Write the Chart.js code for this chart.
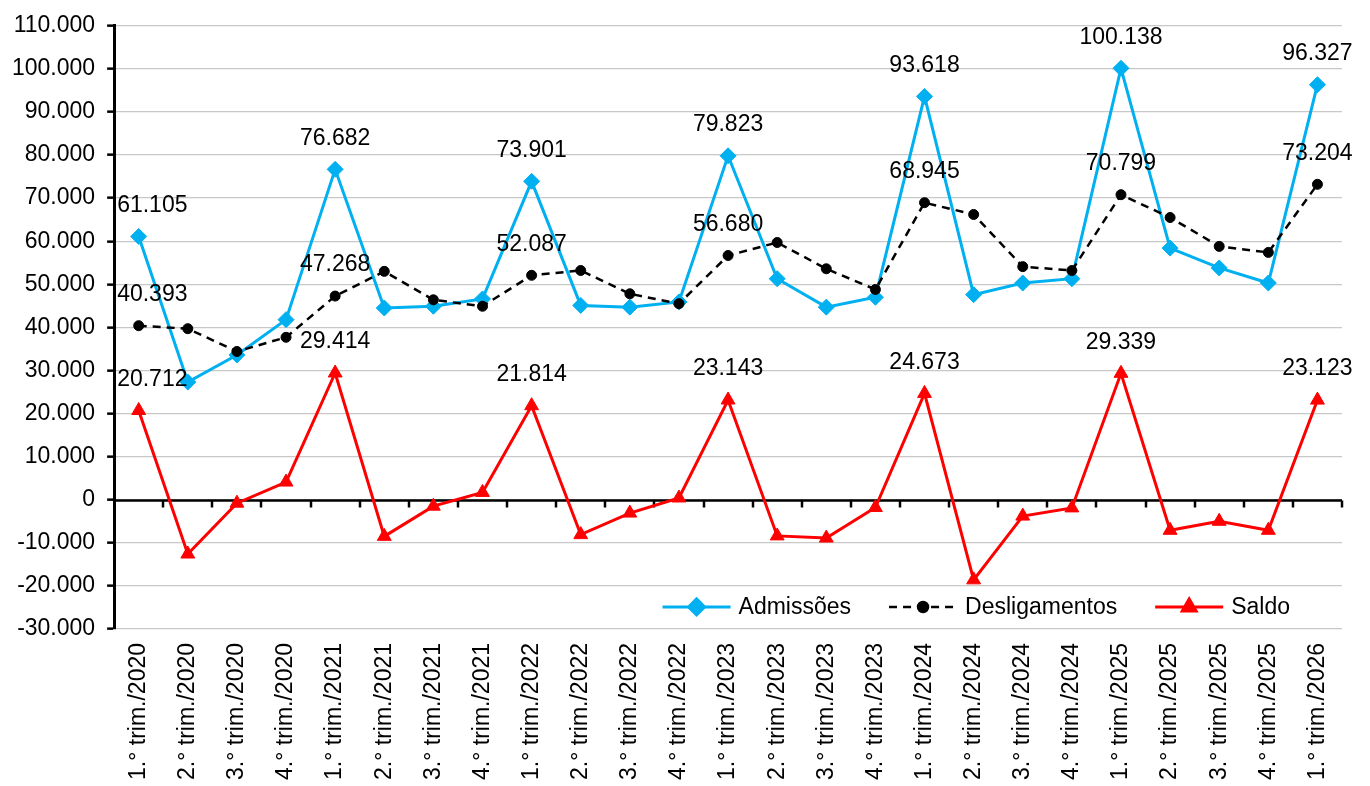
<!DOCTYPE html>
<html>
<head>
<meta charset="utf-8">
<script src="https://cdn.jsdelivr.net/npm/chart.js@4.4.1/dist/chart.umd.min.js"></script>
<style>
  html,body{margin:0;padding:0;background:#fff}
  #wrap{width:1370px;height:786px}
</style>
</head>
<body>
<div id="wrap"><canvas id="c" width="1370" height="786"></canvas></div>
<script>
// --- dados ---
const trimestres=['1.° trim./2020','2.° trim./2020','3.° trim./2020','4.° trim./2020',
  '1.° trim./2021','2.° trim./2021','3.° trim./2021','4.° trim./2021',
  '1.° trim./2022','2.° trim./2022','3.° trim./2022','4.° trim./2022',
  '1.° trim./2023','2.° trim./2023','3.° trim./2023','4.° trim./2023',
  '1.° trim./2024','2.° trim./2024','3.° trim./2024','4.° trim./2024',
  '1.° trim./2025','2.° trim./2025','3.° trim./2025','4.° trim./2025',
  '1.° trim./2026'];
const admissoes=[61105,27300,33600,41800,76682,44500,44900,46600,73901,45100,44700,45900,
  79823,51300,44700,47000,93618,47600,50300,51300,100138,58400,53800,50300,96327];
const desligamentos=[40393,39700,34400,37700,47268,53000,46400,44900,52087,53200,47800,45500,
  56680,59700,53600,48800,68945,66200,54100,53200,70799,65500,58800,57400,73204];
const saldo=[20712,-12600,-800,4100,29414,-8500,-1500,1700,21814,-8100,-3100,400,
  23143,-8400,-8900,-1800,24673,-18600,-3800,-1900,29339,-7100,-5000,-7100,23123];
const comRotulo=[0,4,8,12,16,20,24];
const yMin=-30000, yMax=110000, yPasso=10000;

const FONTE='"Liberation Sans", Arial, sans-serif';
const AZUL='#00B0F0', VERM='#FF0000', PRETO='#000000';

function fmt(v){return String(v).replace(/\B(?=(\d{3})+(?!\d))/g,'.');}

// linha do zero + marcas entre categorias
const eixoZero={id:'eixoZero',beforeDatasetsDraw(ch){
  const {ctx,chartArea:a}=ch, xs=ch.scales.x, ys=ch.scales.y;
  const y0=Math.round(ys.getPixelForValue(0))+0.5;
  ctx.save(); ctx.strokeStyle=PRETO; ctx.lineWidth=2.5;
  ctx.beginPath(); ctx.moveTo(a.left,y0); ctx.lineTo(a.right,y0); ctx.stroke();
  for(let i=1;i<=trimestres.length;i++){
    const x=Math.round(xs.getPixelForValue(i-0.5));
    ctx.beginPath(); ctx.moveTo(x,y0); ctx.lineTo(x,y0+7); ctx.stroke();
  }
  ctx.restore();
}};

// rótulos de dados
const rotulos={id:'rotulos',afterDatasetsDraw(ch){
  const {ctx,chartArea:a}=ch;
  ctx.save(); ctx.font='23px '+FONTE; ctx.fillStyle=PRETO;
  ctx.textAlign='center'; ctx.textBaseline='middle';
  ch.data.datasets.forEach((ds,i)=>{
    const meta=ch.getDatasetMeta(i);
    comRotulo.forEach(j=>{
      const p=meta.data[j], t=fmt(ds.data[j]), w=ctx.measureText(t).width;
      let x=Math.max(p.x,a.left+3+w/2); x=Math.min(x,ch.width-2-w/2);
      ctx.fillText(t,x,p.y-31);
    });
  });
  ctx.restore();
}};

// legenda dentro da área do gráfico
const legenda={id:'legenda',afterDraw(ch){
  const {ctx,chartArea:a}=ch;
  ctx.save(); ctx.font='23px '+FONTE; ctx.textBaseline='middle'; ctx.textAlign='left';
  const amostra=68, gap=8, entre=38;
  const itens=ch.data.datasets.map(ds=>({ds,w:ctx.measureText(ds.label).width}));
  const total=itens.reduce((s,it)=>s+amostra+gap+it.w,0)+entre*(itens.length-1);
  let x=a.right-52-total; const y=a.bottom-22;
  itens.forEach(({ds,w})=>{
    ctx.strokeStyle=ds.borderColor; ctx.lineWidth=ds.borderWidth;
    ctx.setLineDash(ds.borderDash||[]);
    ctx.beginPath(); ctx.moveTo(x,y); ctx.lineTo(x+amostra,y); ctx.stroke();
    ctx.setLineDash([]);
    ctx.fillStyle=ds.pointBackgroundColor; ctx.strokeStyle=ds.pointBackgroundColor;
    Chart.helpers.drawPoint(ctx,{pointStyle:ds.pointStyle,radius:ds.pointRadius,borderWidth:1,rotation:0},x+amostra/2,y);
    ctx.fillStyle=PRETO;
    ctx.fillText(ds.label,x+amostra+gap,y+1);
    x+=amostra+gap+w+entre;
  });
  ctx.restore();
}};

new Chart(document.getElementById('c'),{
  type:'line',
  data:{labels:trimestres,datasets:[
    {label:'Admissões',data:admissoes,borderColor:AZUL,backgroundColor:AZUL,borderWidth:3,
     pointStyle:'rectRot',pointRadius:8,pointBackgroundColor:AZUL,pointBorderColor:AZUL,pointBorderWidth:1,
     tension:0,order:3},
    {label:'Desligamentos',data:desligamentos,borderColor:PRETO,backgroundColor:PRETO,borderWidth:2.5,
     borderDash:[8,6],pointStyle:'circle',pointRadius:5,pointBackgroundColor:PRETO,pointBorderColor:PRETO,
     pointBorderWidth:1,tension:0,order:2},
    {label:'Saldo',data:saldo,borderColor:VERM,backgroundColor:VERM,borderWidth:3,
     pointStyle:'triangle',pointRadius:8,pointBackgroundColor:VERM,pointBorderColor:VERM,pointBorderWidth:1,
     tension:0,order:1}
  ]},
  options:{
    responsive:false,animation:false,
    layout:{padding:{left:0,top:4,right:28,bottom:-8}},
    plugins:{legend:{display:false},tooltip:{enabled:false}},
    scales:{
      x:{offset:true,grid:{display:false,drawTicks:false},border:{display:false},
         ticks:{autoSkip:false,minRotation:90,maxRotation:90,padding:14,color:PRETO,font:{family:FONTE,size:23}}},
      y:{min:yMin,max:yMax,
         ticks:{stepSize:yPasso,padding:12,color:PRETO,font:{family:FONTE,size:23},callback:v=>fmt(v)},
         grid:{color:'#c8c8c8',lineWidth:1.3,tickColor:PRETO,tickLength:7,tickWidth:2.5},
         border:{color:PRETO,width:3}}
    }
  },
  plugins:[eixoZero,rotulos,legenda]
});
</script>
</body>
</html>
